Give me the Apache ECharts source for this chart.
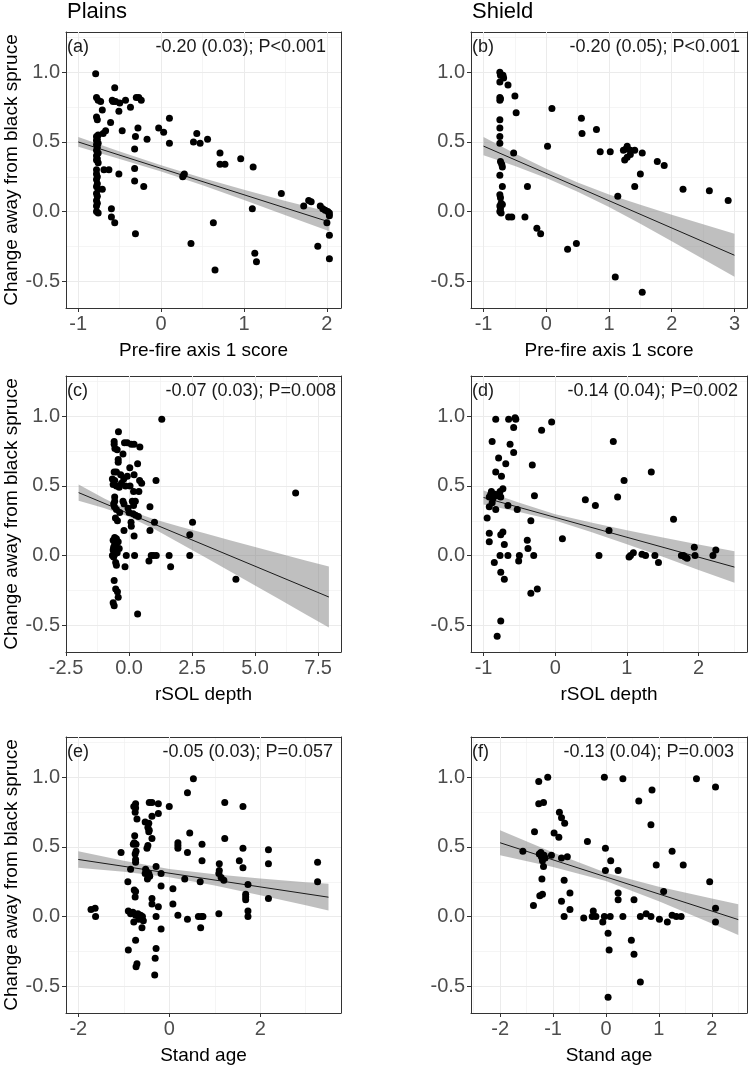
<!DOCTYPE html>
<html>
<head>
<meta charset="utf-8">
<script src="https://cdn.jsdelivr.net/npm/echarts@6/dist/echarts.min.js"></script>
<style>
html,body{margin:0;padding:0;background:#fff;}
#chart{width:749px;height:1066px;}
</style>
</head>
<body>
<div id="chart"></div>
<script>
// ---------------- DATA ----------------
const columnTitles = ['Plains', 'Shield'];
const xNames = ['Pre-fire axis 1 score', 'rSOL depth', 'Stand age'];
const yName = 'Change away from black spruce';
const panelTags = ['(a)', '(b)', '(c)', '(d)', '(e)', '(f)'];
const statTexts = ['-0.20 (0.03); P<0.001', '-0.20 (0.05); P<0.001', '-0.07 (0.03); P=0.008',
                   '-0.14 (0.04); P=0.002', '-0.05 (0.03); P=0.057', '-0.13 (0.04); P=0.003'];

const yTicks = [-0.5, 0, 0.5, 1];
const yMinorTicks = [-0.25, 0.25, 0.75, 1.25];

const xTicksA = [-1, 0, 1, 2];            const xMinorA = [-0.5, 0.5, 1.5];
const xTicksB = [-1, 0, 1, 2, 3];         const xMinorB = [-0.5, 0.5, 1.5, 2.5];
const xTicksC = [-2.5, 0, 2.5, 5, 7.5];   const xMinorC = [-1.25, 1.25, 3.75, 6.25];
const xTicksD = [-1, 0, 1, 2];            const xMinorD = [-0.5, 0.5, 1.5, 2.5];
const xTicksE = [-2, 0, 2];               const xMinorE = [-1, 1, 3];
const xTicksF = [-2, -1, 0, 1, 2];        const xMinorF = [-2.5, -1.5, -0.5, 0.5, 1.5, 2.5];

// (a) Plains, pre-fire axis 1 score
const plainsPrefire = [
[-0.79,0.99],[-0.78,0.82],[-0.76,0.80],[-0.73,0.79],[-0.78,0.68],[-0.77,0.66],[-0.71,0.73],
[-0.78,0.54],[-0.76,0.55],[-0.77,0.52],[-0.78,0.51],[-0.76,0.49],[-0.78,0.48],[-0.77,0.46],[-0.78,0.44],[-0.76,0.42],[-0.78,0.40],[-0.77,0.38],[-0.78,0.37],[-0.76,0.35],
[-0.78,0.30],[-0.78,0.27],[-0.77,0.25],[-0.78,0.23],[-0.77,0.20],[-0.78,0.18],[-0.76,0.16],[-0.78,0.13],[-0.77,0.11],[-0.78,0.08],[-0.77,0.06],[-0.78,0.04],[-0.78,0.00],[-0.76,-0.01],
[-0.71,0.16],[-0.69,0.30],[-0.63,0.30],[-0.67,0.58],[-0.70,0.56],[-0.61,0.64],
[-0.59,0.80],[-0.58,0.79],[-0.55,0.79],[-0.50,0.78],[-0.56,0.89],[-0.43,0.80],[-0.37,0.75],[-0.30,0.82],[-0.27,0.82],[-0.24,0.80],
[-0.51,0.72],[-0.47,0.58],[-0.51,0.27],[-0.60,0.02],[-0.60,-0.04],[-0.56,-0.08],
[-0.28,0.60],[-0.31,0.54],[-0.32,0.45],[-0.32,0.31],[-0.32,0.22],[-0.21,0.18],[-0.17,0.52],[-0.31,-0.16],
[-0.03,0.60],[0.03,0.57],[0.10,0.67],[0.10,0.49],[0.26,0.25],[0.27,0.26],[0.28,0.27],
[0.36,-0.23],[0.43,0.56],[0.39,0.50],[0.47,0.49],[0.56,0.52],[0.63,-0.08],[0.65,-0.42],
[0.71,0.42],[0.71,0.34],[0.77,0.34],[0.96,0.38],[1.11,0.32],[1.10,0.02],[1.13,-0.30],[1.15,-0.36],
[1.45,0.13],[1.72,0.04],[1.78,0.08],[1.81,0.07],[1.89,-0.25],
[1.92,0.04],[1.95,0.02],[1.98,0.01],[2.01,0.00],[2.03,-0.01],[2.03,-0.03],[2.00,-0.08],[2.03,-0.17],[2.03,-0.34]
];
const fitPlainsPrefire = [[-1, 0.50], [2.03, -0.075]];
const bandPlainsPrefire = [[-1,0.465,0.535],[-0.5,0.378,0.432],[0,0.288,0.332],[0.5,0.189,0.241],[1,0.083,0.157],[1.5,-0.026,0.076],[2.03,-0.142,-0.004]];

// (b) Shield, pre-fire axis 1 score
const shieldPrefire = [
[-0.74,1.00],[-0.73,0.98],[-0.74,0.93],[-0.69,0.98],[-0.68,0.96],[-0.74,0.82],[-0.73,0.81],[-0.74,0.80],[-0.74,0.66],[-0.74,0.60],[-0.74,0.54],[-0.74,0.49],
[-0.73,0.36],[-0.71,0.34],[-0.70,0.32],[-0.74,0.26],[-0.70,0.18],[-0.74,0.12],[-0.73,0.10],[-0.72,0.06],[-0.74,0.04],[-0.73,0.02],[-0.74,0.00],[-0.72,-0.01],[-0.70,0.05],
[-0.61,0.91],[-0.50,0.83],[-0.48,0.71],[-0.52,0.42],[-0.30,0.18],[-0.60,-0.04],[-0.55,-0.04],[-0.34,-0.04],[-0.15,-0.12],[-0.09,-0.16],[0.34,-0.27],[0.48,-0.23],
[0.09,0.74],[0.02,0.47],[0.56,0.67],[0.57,0.56],[0.80,0.59],[0.86,0.43],[1.02,0.43],
[1.23,0.44],[1.29,0.47],[1.27,0.45],[1.34,0.44],[1.41,0.44],[1.25,0.37],[1.29,0.39],[1.34,0.41],[1.53,0.42],[1.50,0.27],[1.41,0.18],[1.14,0.11],
[1.77,0.36],[1.88,0.33],[2.18,0.16],[2.60,0.15],[2.90,0.08],[1.10,-0.47],[1.53,-0.58]
];
const fitShieldPrefire = [[-1, 0.47], [3, -0.314]];
const bandShieldPrefire = [[-1,0.405,0.535],[-0.5,0.327,0.417],[0,0.241,0.307],[0.5,0.143,0.209],[1,0.033,0.123],[1.5,-0.088,0.048],[2,-0.213,-0.023],[2.5,-0.341,-0.091],[3,-0.469,-0.159]];

// (c) Plains, rSOL depth
const plainsRsol = [
[1.30,0.98],[-0.42,0.89],[-0.59,0.82],[-0.59,0.80],[-0.56,0.77],[-0.18,0.81],[-0.07,0.81],[0.09,0.80],[0.20,0.80],[0.43,0.78],[-0.47,0.76],[-0.24,0.73],
[-0.43,0.69],[-0.43,0.67],[0.34,0.66],[0.03,0.63],[-0.59,0.60],[-0.50,0.60],[-0.33,0.58],[-0.07,0.57],[0.20,0.58],[-0.21,0.55],[-0.66,0.55],[-0.57,0.54],
[0.42,0.54],[0.50,0.52],[1.07,0.54],[-0.63,0.51],[-0.50,0.50],[-0.39,0.49],[-0.30,0.52],[-0.14,0.50],[0.04,0.50],[0.18,0.46],[0.39,0.46],
[-0.57,0.42],[-0.57,0.39],[-0.61,0.37],[-0.24,0.39],[-0.20,0.37],[0.13,0.39],[0.25,0.39],[0.18,0.36],[-0.58,0.35],[-0.50,0.33],[-0.37,0.31],
[-0.04,0.34],[0.00,0.31],[0.16,0.30],[0.26,0.29],[0.37,0.28],[0.83,0.35],[-0.54,0.27],[-0.46,0.25],[0.08,0.24],[0.09,0.21],[1.01,0.24],[2.52,0.24],
[-0.20,0.18],[0.83,0.18],[0.20,0.14],[2.41,0.15],
[-0.57,0.13],[-0.63,0.11],[-0.57,0.08],[-0.61,0.06],[-0.63,0.04],[-0.57,0.01],[-0.66,0.00],[-0.61,-0.01],[-0.50,0.12],[-0.43,0.10],[-0.53,0.07],[-0.47,0.02],[-0.39,0.05],
[-0.11,0.00],[0.22,0.00],[0.79,-0.04],[0.88,0.00],[0.97,0.00],[1.08,0.00],[1.59,0.00],[2.41,0.00],[1.65,-0.08],[-0.16,-0.08],[-0.53,-0.05],[-0.50,-0.07],
[4.24,-0.17],[6.61,0.45],[-0.59,-0.18],[-0.53,-0.24],[-0.46,-0.26],[-0.43,-0.30],[-0.63,-0.34],[-0.59,-0.36],[0.34,-0.42]
];
const fitPlainsRsol = [[-2, 0.452], [7.93, -0.298]];
const bandPlainsRsol = [[-2,0.393,0.511],[-1,0.342,0.412],[0,0.279,0.323],[1,0.191,0.261],[2,0.091,0.209],[3,-0.010,0.160],[4,-0.112,0.110],[5,-0.215,0.061],[6,-0.317,0.013],[7,-0.421,-0.035],[7.93,-0.517,-0.079]];

// (d) Shield, rSOL depth
const shieldRsol = [
[-0.83,0.98],[-0.65,0.98],[-0.56,0.99],[-0.55,0.98],[-0.58,0.92],[-0.19,0.90],[-0.05,0.96],[-0.88,0.82],[-0.63,0.80],[-0.58,0.74],[0.81,0.82],[-0.79,0.70],
[-0.69,0.66],[-0.32,0.65],[-0.83,0.60],[1.34,0.60],[-0.75,0.57],[0.96,0.54],
[-0.73,0.48],[-0.77,0.46],[-0.89,0.46],[-0.83,0.43],[-0.92,0.42],[-0.87,0.41],[-0.80,0.43],[-0.76,0.42],[-0.88,0.38],[-0.84,0.44],[-0.90,0.44],
[-0.29,0.43],[0.87,0.42],[-0.66,0.36],[-0.92,0.35],[-0.83,0.33],[-0.53,0.33],[0.42,0.40],[0.56,0.36],[-0.95,0.27],[-0.34,0.25],[0.75,0.18],[1.65,0.26],
[-0.92,0.16],[-0.92,0.10],[-0.73,0.17],[-0.76,0.15],[-0.71,0.08],[0.10,0.12],[-0.39,0.11],[-0.38,0.05],[-0.77,0.00],[-0.66,0.00],[-0.30,0.00],[-0.50,0.00],
[-0.51,-0.04],[-0.85,-0.05],[-0.76,-0.12],[-0.71,-0.17],[-0.34,-0.27],[-0.25,-0.24],[-0.76,-0.47],[-0.81,-0.58],
[0.61,0.00],[1.03,-0.01],[1.05,0.00],[1.09,0.02],[1.21,0.01],[1.26,0.00],[1.39,0.00],[1.44,-0.05],[1.76,0.00],[1.79,0.00],[1.81,-0.01],[1.84,-0.02],
[1.94,0.06],[1.95,0.00],[2.20,0.00],[2.24,0.04]
];
const fitShieldRsol = [[-1, 0.417], [2.5, -0.083]];
const bandShieldRsol = [[-1,0.367,0.467],[-0.5,0.312,0.380],[0,0.251,0.297],[0.5,0.169,0.237],[1,0.081,0.181],[1.5,-0.009,0.129],[2,-0.103,0.079],[2.5,-0.196,0.030]];

// (e) Plains, stand age
const plainsAge = [
[0.53,0.99],[0.40,0.89],[1.22,0.82],[1.62,0.79],[0.00,0.79],[-0.74,0.81],[-0.78,0.79],[-0.74,0.78],[-0.75,0.75],[-0.44,0.82],[-0.38,0.82],[-0.24,0.81],
[-0.24,0.74],[-0.38,0.72],[-0.71,0.70],[-0.53,0.68],[-0.45,0.67],[-0.47,0.64],[-0.44,0.62],[-0.45,0.61],[0.45,0.60],[1.22,0.56],[-0.76,0.58],[-0.77,0.53],
[-0.73,0.52],[-0.79,0.52],[-0.38,0.56],[0.19,0.53],[0.19,0.51],[0.19,0.49],[0.72,0.52],[-0.47,0.51],[-0.49,0.49],[1.62,0.49],[2.18,0.48],[-0.73,0.47],
[-0.75,0.45],[-0.74,0.41],[-0.74,0.39],[-1.06,0.46],[0.40,0.46],[0.72,0.40],[1.54,0.40],[1.10,0.38],[2.18,0.38],[3.26,0.39],[1.62,0.35],[-0.29,0.36],
[-0.85,0.34],[-0.52,0.34],[-0.49,0.32],[-0.45,0.31],[-0.43,0.29],[-0.48,0.27],[-0.53,0.31],[-0.18,0.31],[0.34,0.27],[0.68,0.25],[1.10,0.33],[1.09,0.31],
[1.14,0.28],[1.20,0.26],[1.73,0.23],[3.26,0.25],[-0.91,0.25],[-0.18,0.22],[0.08,0.20],[-0.77,0.19],[-0.74,0.18],[-0.75,0.14],[-0.38,0.13],[-0.38,0.09],
[1.68,0.16],[1.68,0.14],[1.68,0.12],[2.18,0.13],[-0.24,0.07],[0.08,0.09],[1.73,0.04],[1.73,0.00],[-1.72,0.05],[-1.63,0.06],[-1.62,0.00],
[-0.90,0.04],[-0.85,0.02],[-0.80,0.03],[-0.74,0.01],[-0.69,0.02],[-0.63,0.01],[-0.59,0.00],[-0.67,-0.02],[-0.57,-0.03],[-0.78,-0.04],[-0.60,-0.08],
[-0.29,0.00],[0.19,0.01],[0.40,-0.02],[0.64,0.00],[0.71,0.00],[0.74,0.00],[0.69,-0.08],[1.09,0.02],[-0.18,-0.09],[-0.74,-0.17],[-0.90,-0.24],
[-0.29,-0.23],[-0.31,-0.30],[-0.71,-0.34],[-0.73,-0.36],[-0.32,-0.42]
];
const fitPlainsAge = [[-2, 0.410], [3.5, 0.139]];
const bandPlainsAge = [[-2,0.350,0.470],[-1,0.321,0.401],[0,0.282,0.342],[1,0.223,0.303],[2,0.153,0.273],[3,0.081,0.247],[3.5,0.043,0.235]];

// (f) Shield, stand age
const shieldAge = [
[-1.27,0.97],[-1.10,1.00],[-0.03,1.00],[0.32,0.99],[1.71,0.99],[2.07,0.93],[0.87,0.91],[0.62,0.83],[-1.27,0.81],[-1.18,0.82],[-0.88,0.75],[-0.84,0.71],
[-0.78,0.67],[0.85,0.66],[-1.35,0.61],[-0.98,0.60],[-0.89,0.57],[-0.35,0.54],[-0.01,0.49],[-1.57,0.47],[-1.23,0.46],[-1.26,0.45],[-1.17,0.44],[-1.22,0.43],
[-1.15,0.42],[-1.20,0.40],[-1.03,0.44],[-0.84,0.42],[-0.73,0.43],[0.09,0.40],[-1.18,0.36],[0.95,0.37],[1.46,0.37],[1.25,0.47],[-0.01,0.33],[0.23,0.33],
[-0.79,0.26],[-1.21,0.27],[1.96,0.25],[1.09,0.18],[0.23,0.17],[0.23,0.12],[-0.68,0.17],[-1.25,0.15],[-1.20,0.16],[-0.84,0.11],[-0.68,0.05],[-1.37,0.08],
[0.53,0.12],[2.07,0.06],[2.07,-0.04],[-0.79,0.00],[-0.42,-0.01],[-0.24,0.04],[-0.26,0.00],[-0.19,0.00],[-0.06,-0.04],[-0.03,0.00],[0.08,0.00],[0.32,0.00],
[0.65,0.00],[0.76,0.02],[0.85,0.00],[1.01,-0.02],[1.16,-0.04],[1.25,0.01],[1.33,0.00],[1.42,0.00],[0.04,-0.12],[0.06,-0.24],[0.48,-0.17],[0.53,-0.27],
[0.65,-0.47],[0.04,-0.58]
];
const fitShieldAge = [[-2, 0.530], [2.5, -0.022]];
const bandShieldAge = [[-2,0.440,0.620],[-1,0.356,0.460],[0,0.255,0.315],[1,0.110,0.214],[2,-0.050,0.130],[2.5,-0.132,0.088]];

// ---------------- LAYOUT ----------------
const FONT = "'Liberation Sans', Arial, Helvetica, sans-serif";
const Y_MIN = -0.693, Y_MAX = 1.29;
const colLeft = [66, 471], colWidth = [275, 276];
const rowTop = [32, 376, 737], plotH = 276;
const FRAME = '#333333';

const panels = [
  {pts: plainsPrefire, fit: fitPlainsPrefire, band: bandPlainsPrefire, col: 0, row: 0, xr: [-1.148, 2.17], maj: xTicksA, min: xMinorA, dec: 0, statRight: 326},
  {pts: shieldPrefire, fit: fitShieldPrefire, band: bandShieldPrefire, col: 1, row: 0, xr: [-1.2, 3.2], maj: xTicksB, min: xMinorB, dec: 0, statRight: 740},
  {pts: plainsRsol, fit: fitPlainsRsol, band: bandPlainsRsol, col: 0, row: 1, xr: [-2.501, 8.41], maj: xTicksC, min: xMinorC, dec: 1, statRight: 336},
  {pts: shieldRsol, fit: fitShieldRsol, band: bandShieldRsol, col: 1, row: 1, xr: [-1.175, 2.675], maj: xTicksD, min: xMinorD, dec: 0, statRight: 738},
  {pts: plainsAge, fit: fitPlainsAge, band: bandPlainsAge, col: 0, row: 2, xr: [-2.27, 3.775], maj: xTicksE, min: xMinorE, dec: 0, statRight: 333},
  {pts: shieldAge, fit: fitShieldAge, band: bandShieldAge, col: 1, row: 2, xr: [-2.55, 2.665], maj: xTicksF, min: xMinorF, dec: 0, statRight: 734}
];

const grids = [], xAxes = [], yAxes = [], series = [], graphics = [];

columnTitles.forEach((t, c) => {
  graphics.push({type: 'text', x: colLeft[c] + 1, y: 12,
    style: {text: t, fontSize: 22, fontFamily: FONT, fill: '#000', align: 'left', verticalAlign: 'middle'}});
});

panels.forEach((p, i) => {
  const left = colLeft[p.col], top = rowTop[p.row], width = colWidth[p.col];
  grids.push({left: left, top: top, width: width, height: plotH, show: false, containLabel: false});
  const fmt = p.dec ? (v => v.toFixed(p.dec)) : (v => String(v));
  // major x axis (bottom frame line, ticks, labels, major grid)
  xAxes.push({type: 'value', gridIndex: i, min: p.xr[0], max: p.xr[1], position: 'bottom',
    axisLine: {show: true, onZero: false, lineStyle: {color: FRAME, width: 1}},
    axisTick: {show: true, length: 4, lineStyle: {color: FRAME, width: 1}, customValues: p.maj},
    axisLabel: {show: true, customValues: p.maj, formatter: fmt, color: '#4d4d4d', fontSize: 20, fontFamily: FONT, margin: 6},
    splitLine: {show: true, lineStyle: {color: '#ebebeb', width: 1}},
    name: xNames[p.row], nameLocation: 'middle', nameGap: 33,
    nameTextStyle: {fontSize: 19, color: '#000', fontFamily: FONT}, z: 1});
  // minor x axis (top frame line, minor grid)
  xAxes.push({type: 'value', gridIndex: i, min: p.xr[0], max: p.xr[1], position: 'top',
    axisLine: {show: true, onZero: false, lineStyle: {color: FRAME, width: 1}},
    axisTick: {show: false, customValues: p.min},
    axisLabel: {show: false, customValues: p.min},
    splitLine: {show: true, lineStyle: {color: '#f0f0f0', width: 0.7}}, z: 0});
  // major y axis (left frame line)
  const yAx = {type: 'value', gridIndex: i, min: Y_MIN, max: Y_MAX, position: 'left',
    axisLine: {show: true, onZero: false, lineStyle: {color: FRAME, width: 1}},
    axisTick: {show: true, length: 4, lineStyle: {color: FRAME, width: 1}, customValues: yTicks},
    axisLabel: {show: true, customValues: yTicks, formatter: v => v.toFixed(1), color: '#4d4d4d', fontSize: 20, fontFamily: FONT, margin: 6},
    splitLine: {show: true, lineStyle: {color: '#ebebeb', width: 1}}, z: 1};
  if (p.col === 0) {
    Object.assign(yAx, {name: yName, nameLocation: 'middle', nameGap: 44, nameRotate: 90,
      nameTextStyle: {fontSize: 19, color: '#000', fontFamily: FONT}});
  }
  yAxes.push(yAx);
  // minor y axis (right frame line, minor grid)
  yAxes.push({type: 'value', gridIndex: i, min: Y_MIN, max: Y_MAX, position: 'right',
    axisLine: {show: true, onZero: false, lineStyle: {color: FRAME, width: 1}},
    axisTick: {show: false, customValues: yMinorTicks},
    axisLabel: {show: false, customValues: yMinorTicks},
    splitLine: {show: true, lineStyle: {color: '#f0f0f0', width: 0.7}}, z: 0});

  const xi = 2 * i, yi = 2 * i;
  const band = p.band;
  series.push({type: 'custom', xAxisIndex: xi, yAxisIndex: yi, data: band,
    encode: {x: 0, y: [1, 2]}, silent: true, z: 2,
    renderItem: function (params, api) {
      if (params.dataIndex !== 0) return null;
      const up = [], lo = [];
      for (const r of band) {
        up.push(api.coord([r[0], r[2]]));
        lo.push(api.coord([r[0], r[1]]));
      }
      return {type: 'polygon', shape: {points: up.concat(lo.reverse())},
        style: {fill: 'rgba(128,128,128,0.5)', stroke: null}};
    }});
  series.push({type: 'line', xAxisIndex: xi, yAxisIndex: yi, data: p.fit, symbol: 'none',
    lineStyle: {color: '#1a1a1a', width: 1}, silent: true, z: 3});
  series.push({type: 'scatter', xAxisIndex: xi, yAxisIndex: yi, data: p.pts, symbol: 'circle',
    symbolSize: 7, itemStyle: {color: '#000', opacity: 1}, silent: true, z: 4});

  graphics.push({type: 'text', x: left + 1, y: top + 15,
    style: {text: panelTags[i], fontSize: 18, fontFamily: FONT, fill: '#1a1a1a', align: 'left', verticalAlign: 'middle'}, z: 10});
  graphics.push({type: 'text', x: p.statRight, y: top + 15,
    style: {text: statTexts[i], fontSize: 18, fontFamily: FONT, fill: '#1a1a1a', align: 'right', verticalAlign: 'middle'}, z: 10});
});

const chart = echarts.init(document.getElementById('chart'), null, {renderer: 'canvas'});
chart.setOption({
  animation: false,
  backgroundColor: '#ffffff',
  textStyle: {fontFamily: FONT},
  grid: grids, xAxis: xAxes, yAxis: yAxes, series: series, graphic: graphics
});
</script>
</body>
</html>
